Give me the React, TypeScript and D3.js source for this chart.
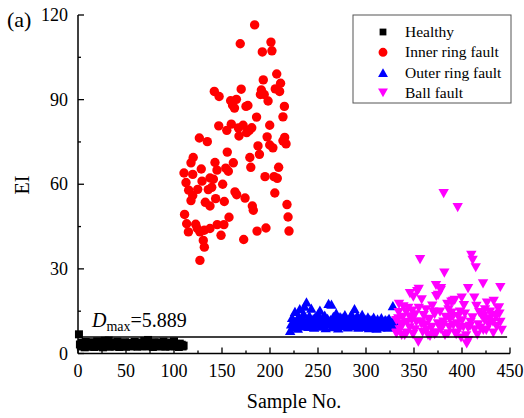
import React from "react";
import * as d3 from "d3";

const healthy: number[] = [
  6.8, 3.2, 2.5, 3.8, 2.9, 3.5, 2.2, 4.1, 3.0, 2.6,
  3.7, 2.4, 3.3, 2.8, 4.0, 3.1, 2.3, 3.6, 2.7, 4.3,
  3.0, 2.5, 3.4, 2.9, 3.8, 2.2, 3.2, 4.5, 2.6, 3.5,
  3.0, 4.6, 2.4, 3.3, 2.8, 3.9, 3.1, 2.5, 3.6, 2.7,
  4.2, 3.0, 2.3, 3.5, 2.9, 3.7, 2.6, 3.2, 4.0, 2.4,
  3.4, 2.8, 3.1, 3.8, 2.5, 3.3, 2.7, 3.6, 4.1, 2.9,
  3.0, 2.4, 3.5, 2.8, 3.9, 3.2, 2.6, 3.4, 4.4, 3.0,
  2.5, 3.7, 4.8, 2.7, 3.3, 2.9, 3.6, 2.3, 3.1, 4.0,
  2.8, 3.4, 2.5, 3.8, 3.0, 2.6, 3.5, 2.9, 4.2, 3.1,
  2.4, 3.3, 2.7, 3.6, 3.0, 2.5, 3.9, 2.8, 3.2, 4.3,
  2.6, 3.4, 2.9, 3.0, 2.3, 3.5, 2.7, 3.1, 2.5, 2.8,
];
const healthyStart = 1;

const innerRing: [number, number][] = [
  [184, 116.5], [169, 109.8], [201, 110.4], [192, 106.9], [202, 107.3], [207, 99.1], [193, 97.0],
  [211, 95.8], [205.5, 93.8], [210, 92.9], [142, 92.9], [147, 91.1], [170, 93.7], [191, 93.4],
  [190, 91.8], [194, 91.8], [198, 89.5], [159, 89.6], [165, 90.1], [161, 88.0], [163, 87.0],
  [175, 87.6], [177, 87.9], [215, 87.6], [186, 83.8], [213.5, 83.9], [146.6, 80.7], [159.7, 81.3],
  [155, 79.1], [167, 80.0], [172, 80.9], [181, 80.0], [175.7, 78.3], [178.4, 79.1], [199.7, 80.9],
  [167.7, 77.1], [197, 76.8], [215.3, 76.6], [126.4, 76.4], [134.7, 75.1], [216.7, 74.3],
  [213.5, 75.4], [187.5, 73.6], [199.7, 73.9], [203, 72.9], [189, 70.6], [155.5, 71.4], [179, 69.5],
  [120, 69.5], [117.7, 67.6], [142.7, 67.7], [161.8, 67.6], [128.4, 65.4], [153.9, 65.7],
  [156.6, 64.6], [144.8, 65.0], [110.4, 64.0], [119.5, 63.5], [180, 66.0], [209, 66.0],
  [137.5, 62.2], [141, 61.8], [129.2, 61.1], [112.5, 60.6], [150.7, 60.0], [194.8, 62.7],
  [204.2, 62.7], [207.6, 62.1], [139.3, 58.9], [135.7, 58.1], [124.7, 58.2], [115.3, 57.9],
  [163.5, 57.3], [165.3, 56.3], [205, 56.9], [119.5, 56.0], [117.7, 54.2], [174, 55.1],
  [143.4, 54.9], [132.6, 53.6], [137.5, 52.3], [152.4, 53.9], [181.6, 52.3], [182.6, 50.8],
  [217.7, 52.8], [111, 49.3], [157.3, 48.3], [218.8, 48.4], [113.2, 46.0], [122.6, 45.8],
  [124.3, 44.3], [131.6, 43.7], [137.5, 44.3], [145, 45.7], [152, 45.7], [115, 43.1], [127, 43.1],
  [149, 41.9], [186.5, 43.4], [195.8, 44.5], [219.8, 43.4], [130.5, 40.1], [131.6, 37.7],
  [172.6, 40.4], [127, 33.0],
];

const outerRing: number[] = [
  8.2, 10.5, 12.8, 9.4, 11.6, 14.9, 10.2, 12.1, 9.0, 13.3,
  15.9, 11.4, 9.8, 12.6, 14.2, 16.8, 10.7, 18.3, 12.0, 9.6,
  13.5, 11.1, 16.1, 10.0, 12.4, 9.3, 13.0, 11.8, 10.4, 14.1,
  12.2, 15.4, 9.7, 11.3, 12.9, 10.1, 13.6, 9.2, 11.7, 12.5,
  17.8, 10.6, 12.0, 17.5, 9.5, 13.2, 11.0, 10.3, 14.4, 12.3,
  9.1, 11.9, 13.1, 10.8, 12.7, 9.9, 11.5, 13.8, 10.2, 12.0,
  9.4, 11.2, 12.8, 10.5, 14.0, 9.8, 11.6, 15.9, 12.4, 10.1,
  13.4, 9.3, 11.0, 12.6, 10.4, 13.9, 9.6, 11.8, 12.2, 10.0,
  11.4, 13.0, 9.2, 12.1, 10.7, 11.9, 9.5, 12.9, 10.3, 11.2,
  9.0, 12.3, 10.6, 11.5, 9.4, 12.7, 10.1, 11.1, 9.7, 12.0,
  10.4, 11.8, 9.3, 12.5, 10.8, 9.6, 11.3, 17.0, 10.2, 11.6,
];
const outerStart = 221;

const ballFault: [number, number][] = [
  [380.9, 56.7], [395.5, 51.7], [356.3, 33.3], [409.7, 34.8], [411.1, 33.0], [414.3, 30.4],
  [381.6, 28.5], [421.9, 24.7], [439.9, 23.4], [372.9, 24.1], [378.1, 23.0], [354.9, 22.7],
  [353.4, 21.9], [345.8, 21.2], [349.3, 20.0], [373.2, 20.2], [406.3, 23.0], [399.7, 19.6],
  [390.6, 18.5], [384.7, 17.4], [412.8, 19.6], [415, 16.7], [334.4, 17.4], [341.7, 14.7],
  [351, 13.7], [338.2, 12.8], [362.5, 15.5], [370.1, 14.7], [377.1, 14.7], [389.2, 14.3],
  [397.9, 14.7], [438.5, 16.2], [429.2, 14.7], [435.4, 13.2], [422.6, 13.2], [427.8, 12.3],
  [347.6, 11.7], [357, 11.1], [364.9, 12.1], [333.6, 12.3], [337.2, 9.6], [380.5, 11.1],
  [386.8, 9.3], [368.4, 9.3], [401.4, 9.3], [408.3, 9.6], [351, 8.4], [363.2, 8.2], [373.6, 7.3],
  [332, 7.2], [342.4, 7.2], [392.7, 7.2], [404.2, 6.3], [422.2, 8.2], [432.6, 7.2], [441.4, 8.2],
  [354.5, 4.0], [404.9, 3.4], [406.6, 4.6], [337.2, 6.4], [366.7, 6.1], [382.3, 6.4],
  [377.8, 22.3], [375, 20.6], [388.9, 18.2], [392.4, 18.8], [437.5, 15.9], [371.5, 13.8],
  [390.6, 13.1], [387.2, 12.0], [420.1, 13.5], [423.6, 11.7], [435.7, 12.9], [432.3, 11.1],
  [357.6, 10.5], [368, 9.1], [380.2, 9.9], [397.6, 8.8], [406.3, 9.1], [413.2, 8.4], [425.3, 8.2],
  [385.4, 7.0], [394, 6.7], [364.6, 6.4], [371.5, 6.7], [352.4, 11.1], [331.6, 11.7],
  [336.8, 10.5], [335.1, 8.4], [345.5, 9.1], [331.6, 7.0], [340.3, 6.4], [349, 6.7],
  [417, 10.2], [400, 11.6], [360, 13.4], [344, 16.0], [426, 17.9], [433, 18.5], [395, 10.5],
  [411, 12.6], [440, 11.0], [346, 13.0],
  [334, 14.5], [339, 16.5], [343, 11.0], [348, 15.0], [355, 16.0], [359, 7.5], [361, 10.0],
  [366, 12.0], [369, 16.8], [375, 10.5], [378, 8.5], [383, 12.8], [386, 15.5], [391, 10.0],
  [396, 13.0], [399, 5.5], [403, 14.0], [409, 11.0], [416, 6.5], [419, 9.0], [424, 15.5],
  [428, 10.0], [431, 13.5], [436, 9.5], [439, 14.0], [418, 14.5], [402, 17.0], [358, 19.0],
];

const dMax = 5.889;
const xTicks = [0, 50, 100, 150, 200, 250, 300, 350, 400, 450];
const xMinor = [25, 75, 125, 175, 225, 275, 325, 375, 425];
const yTicks = [0, 30, 60, 90, 120];
const yMinor = [15, 45, 75, 105];
const legendItems = ["Healthy", "Inner ring fault", "Outer ring fault", "Ball fault"];
const colors = ["#000000", "#FF0000", "#0000FF", "#FF00FF"];

const FONT = "Liberation Serif, Times New Roman, serif";

function marker(kind: number, cx: number, cy: number, s = 1) {
  if (kind === 0) {
    const h = 4 * s;
    return `M${cx - h},${cy - h}H${cx + h}V${cy + h}H${cx - h}Z`;
  }
  if (kind === 1) {
    const r = 4.7 * s;
    return `M${cx - r},${cy}A${r},${r} 0 1,0 ${cx + r},${cy}A${r},${r} 0 1,0 ${cx - r},${cy}Z`;
  }
  const w = 5.2 * s;
  const h = 4.6 * s;
  if (kind === 2) {
    return `M${cx},${cy - h}L${cx + w},${cy + h}L${cx - w},${cy + h}Z`;
  }
  return `M${cx},${cy + h}L${cx + w},${cy - h}L${cx - w},${cy - h}Z`;
}

const txt = { fontFamily: FONT };

export default function App() {
  const W = 524;
  const H = 418;
  const x = d3.scaleLinear().domain([0, 450]).range([78, 510]);
  const y = d3.scaleLinear().domain([0, 120]).range([353.5, 15]);

  const healthyPts = healthy.map((v, i) => [healthyStart + i, v] as [number, number]);
  const outerPts = outerRing.map((v, i) => [outerStart + i, v] as [number, number]);
  const series: [number, number][][] = [healthyPts, innerRing, outerPts, ballFault];

  return (
    <svg
      width={W}
      height={H}
      style={{ position: "absolute", left: 0, top: 0, background: "#fff", fontFamily: FONT }}
    >
      <rect x={0} y={0} width={W} height={H} fill="#fff" />
      {series.map((pts, k) => (
        <g key={k} fill={colors[k]}>
          {pts.map(([s, v], i) => (
            <path key={i} d={marker(k, x(s), y(v))} />
          ))}
        </g>
      ))}
      <line x1={x(0)} x2={x(447)} y1={y(dMax)} y2={y(dMax)} stroke="#000" strokeWidth={1.5} />
      <text x={92} y={327} fontSize={20} style={txt}>
        <tspan fontStyle="italic">D</tspan>
        <tspan fontSize={14} dy={4}>max</tspan>
        <tspan dy={-4}>={dMax}</tspan>
      </text>
      <line x1={x(0)} x2={x(0)} y1={y(0)} y2={y(120)} stroke="#000" strokeWidth={1.5} />
      <line x1={x(0)} x2={x(450)} y1={y(0)} y2={y(0)} stroke="#000" strokeWidth={1.5} />
      {xTicks.map((t) => (
        <g key={"xt" + t}>
          <line x1={x(t)} x2={x(t)} y1={y(0)} y2={y(0) - 6} stroke="#000" strokeWidth={1.3} />
          <text x={x(t)} y={377} fontSize={18} textAnchor="middle" style={txt}>{t}</text>
        </g>
      ))}
      {xMinor.map((t) => (
        <line key={"xm" + t} x1={x(t)} x2={x(t)} y1={y(0)} y2={y(0) - 3} stroke="#000" strokeWidth={1.3} />
      ))}
      {yTicks.map((t) => (
        <g key={"yt" + t}>
          <line x1={x(0)} x2={x(0) + 6} y1={y(t)} y2={y(t)} stroke="#000" strokeWidth={1.3} />
          <text x={68} y={y(t) + 6} fontSize={18} textAnchor="end" style={txt}>{t}</text>
        </g>
      ))}
      {yMinor.map((t) => (
        <line key={"ym" + t} x1={x(0)} x2={x(0) + 3} y1={y(t)} y2={y(t)} stroke="#000" strokeWidth={1.3} />
      ))}
      <text x={294} y={408} fontSize={20} textAnchor="middle" style={txt}>Sample No.</text>
      <text transform="translate(29,185) rotate(-90)" fontSize={20} textAnchor="middle" style={txt}>EI</text>
      <text x={7} y={27} fontSize={22} style={txt}>(a)</text>
      <rect x={353} y={15} width={158} height={88} fill="#fff" stroke="#555" strokeWidth={1} />
      {legendItems.map((name, i) => (
        <g key={name}>
          <path d={marker(i, 383, 32 + i * 20.3, i === 0 ? 0.85 : 0.95)} fill={colors[i]} />
          <text x={405} y={32 + i * 20.3 + 5} fontSize={15.5} style={txt}>{name}</text>
        </g>
      ))}
    </svg>
  );
}
